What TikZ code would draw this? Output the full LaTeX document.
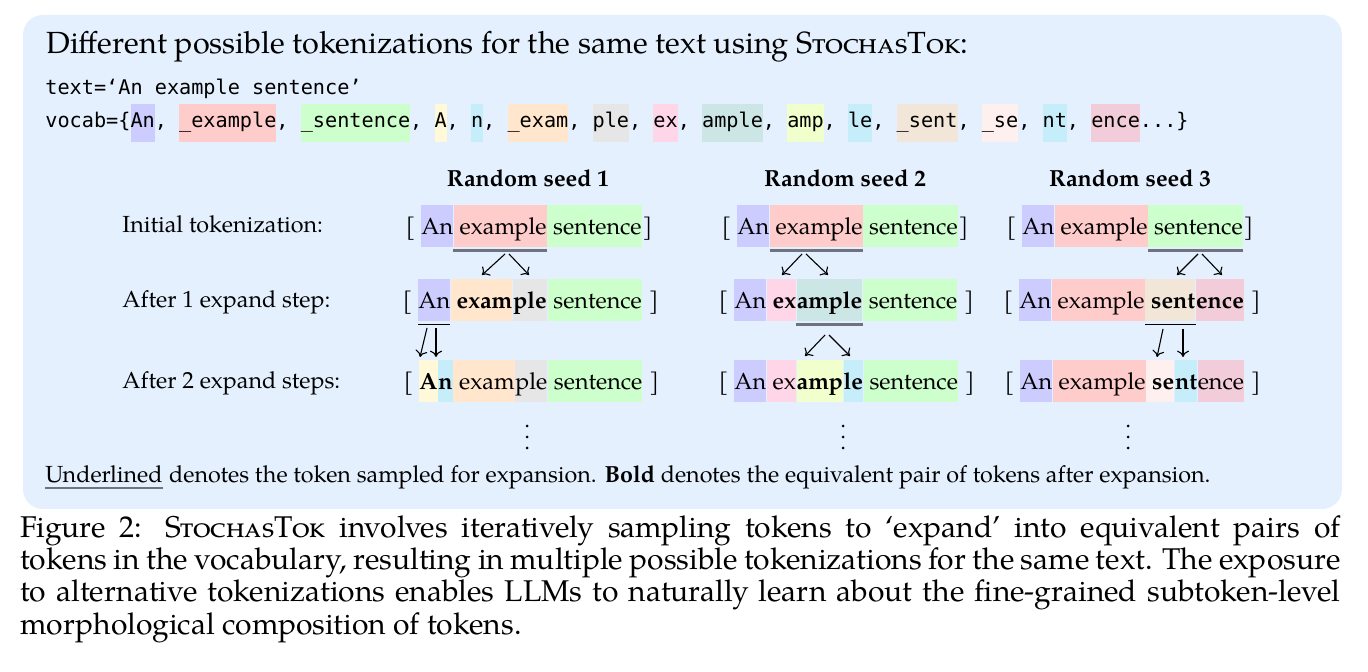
\documentclass[tikz,border=0pt]{standalone}
\usepackage{fontspec}
\setmainfont{texgyrepagella}[Extension=.otf, UprightFont=*-regular, BoldFont=*-bold, ItalicFont=*-italic, BoldItalicFont=*-bolditalic]
\setmonofont{DejaVu Sans Mono}
\usetikzlibrary{calc,arrows.meta}
\definecolor{bg}{RGB}{228,240,254}
\definecolor{cAn}{RGB}{204,204,255}
\definecolor{cExample}{RGB}{255,204,204}
\definecolor{cSentence}{RGB}{204,255,204}
\definecolor{cA}{RGB}{255,249,217}
\definecolor{cN}{RGB}{198,238,250}
\definecolor{cExam}{RGB}{255,230,204}
\definecolor{cPle}{RGB}{230,230,230}
\definecolor{cEx}{RGB}{255,214,232}
\definecolor{cAmple}{RGB}{204,230,230}
\definecolor{cAmp}{RGB}{240,255,204}
\definecolor{cLe}{RGB}{198,238,250}
\definecolor{cSent}{RGB}{242,230,217}
\definecolor{cSe}{RGB}{255,240,240}
\definecolor{cNt}{RGB}{198,238,250}
\definecolor{cEnce}{RGB}{242,204,217}
\definecolor{ulgray}{RGB}{110,115,125}
\newcommand{\vhl}[2]{{\setlength{\fboxsep}{0pt}\colorbox{#1}{\rule[-7pt]{0pt}{19pt}#2}}}
\tikzset{
  tok/.style={inner sep=0pt, text height=15pt, text depth=6pt, anchor=base west, font=\fontsize{11.65}{14}\selectfont},
  brk/.style={inner sep=0pt, font=\fontsize{11.65}{14}\selectfont},
  lbl/.style={inner sep=0pt, anchor=base west, font=\fontsize{11.65}{14}\selectfont},
  hdr/.style={inner sep=0pt, anchor=base, font=\fontsize{11.65}{14}\selectfont\bfseries},
  mono/.style={inner sep=0pt, anchor=base west, font=\fontsize{10.1}{12}\ttfamily},
  ulthick/.style={draw=ulgray, line width=1.3pt},
  ulthin/.style={draw=black, line width=0.5pt},
  arr/.style={-{To[length=3.2pt,width=6pt]}, line width=0.55pt}
}
\begin{document}
\begin{tikzpicture}[x=0.5pt,y=-0.5pt]
\useasboundingbox (0,0) rectangle (1368,672);
\fill[white] (0,0) rectangle (1368,672);
\fill[bg, rounded corners=10pt] (23,15) rectangle (1342,509);

\node[inner sep=0pt, anchor=base west, font=\fontsize{15.3}{18}\selectfont] (title) at (46,54)
  {Different possible tokenizations for the same text using \textsc{StochasTok}:};
\node[mono] (textline) at (45,95) {text=‘An example sentence’};
\node[mono] (vocab) at (45,128) {vocab=\{\vhl{cAn}{An}, \vhl{cExample}{\_example}, \vhl{cSentence}{\_sentence}, \vhl{cA}{A}, \vhl{cN}{n}, \vhl{cExam}{\_exam}, \vhl{cPle}{ple}, \vhl{cEx}{ex}, \vhl{cAmple}{ample}, \vhl{cAmp}{amp}, \vhl{cLe}{le}, \vhl{cSent}{\_sent}, \vhl{cSe}{\_se}, \vhl{cNt}{nt}, \vhl{cEnce}{ence}...\}};

% headers
\node[hdr] (h1) at (528,187) {Random seed 1};
\node[hdr] (h2) at (845,187) {Random seed 2};
\node[hdr] (h3) at (1130,187) {Random seed 3};

% row labels
\node[lbl] (l1) at (122,233) {Initial tokenization:};
\node[lbl] (l2) at (122,308) {After 1 expand step:};
\node[lbl] (l3) at (122,389) {After 2 expand steps:};

% ---------------- seed 1 ----------------
\node[tok, fill=cAn] (a11) at (421,235) {An};
\node[tok, fill=cExample] (a12) at (a11.base east) {\ example};
\node[tok, fill=cSentence] (a13) at (a12.base east) {\ sentence};
\node[brk, anchor=base east] (a1L) at (a11.base west) {[\kern2.5pt};
\node[brk, anchor=base west] (a1R) at (a13.base east) {]};

\node[tok, fill=cAn] (a21) at (418,309) {An};
\node[tok, fill=cExam] (a22) at (a21.base east) {\ \textbf{exam}};
\node[tok, fill=cPle] (a23) at (a22.base east) {\textbf{ple}};
\node[tok, fill=cSentence] (a24) at (a23.base east) {\ sentence};
\node[brk, anchor=base east] (a2L) at (a21.base west) {[\kern2.5pt};
\node[brk, anchor=base west] (a2R) at (a24.base east) {\ ]};

\node[tok, fill=cA] (a31) at (419,390) {\textbf{A}};
\node[tok, fill=cN] (a32) at (a31.base east) {\textbf{n}};
\node[tok, fill=cExam] (a33) at (a32.base east) {\ exam};
\node[tok, fill=cPle] (a34) at (a33.base east) {ple};
\node[tok, fill=cSentence] (a35) at (a34.base east) {\ sentence};
\node[brk, anchor=base east] (a3L) at (a31.base west) {[\kern2.5pt};
\node[brk, anchor=base west] (a3R) at (a35.base east) {\ ]};

\draw[ulthick] ($(a12.south west)+(0,3)$) -- ($(a12.south east)+(0,3)$);
\draw[ulthin] ($(a21.south west)+(0,3)$) -- ($(a21.south east)+(0,3)$);

\coordinate (p1a) at (505,254); \coordinate (q1a) at (482,275);
\coordinate (p1b) at (509,254); \coordinate (q1b) at (529,275);
\draw[arr] (p1a) -- (q1a);
\draw[arr] (p1b) -- (q1b);
\coordinate (p2a) at (427,328); \coordinate (q2a) at (420,357);
\coordinate (p2b) at (436,328); \coordinate (q2b) at (436,357);
\draw[arr] (p2a) -- (q2a);
\draw[arr] (p2b) -- (q2b);

% ---------------- seed 2 ----------------
\node[tok, fill=cAn] (b11) at (737,235) {An};
\node[tok, fill=cExample] (b12) at (b11.base east) {\ example};
\node[tok, fill=cSentence] (b13) at (b12.base east) {\ sentence};
\node[brk, anchor=base east] (b1L) at (b11.base west) {[\kern2.5pt};
\node[brk, anchor=base west] (b1R) at (b13.base east) {]};

\node[tok, fill=cAn] (b21) at (734,309) {An};
\node[tok, fill=cEx] (b22) at (b21.base east) {\ \textbf{ex}};
\node[tok, fill=cAmple] (b23) at (b22.base east) {\textbf{ample}};
\node[tok, fill=cSentence] (b24) at (b23.base east) {\ sentence};
\node[brk, anchor=base east] (b2L) at (b21.base west) {[\kern2.5pt};
\node[brk, anchor=base west] (b2R) at (b24.base east) {\ ]};

\node[tok, fill=cAn] (b31) at (734,390) {An};
\node[tok, fill=cEx] (b32) at (b31.base east) {\ ex};
\node[tok, fill=cAmp] (b33) at (b32.base east) {\textbf{amp}};
\node[tok, fill=cLe] (b34) at (b33.base east) {\textbf{le}};
\node[tok, fill=cSentence] (b35) at (b34.base east) {\ sentence};
\node[brk, anchor=base east] (b3L) at (b31.base west) {[\kern2.5pt};
\node[brk, anchor=base west] (b3R) at (b35.base east) {\ ]};

\draw[ulthick] ($(b12.south west)+(0,3)$) -- ($(b12.south east)+(0,3)$);
\draw[ulthick] ($(b23.south west)+(0,3)$) -- ($(b23.south east)+(0,3)$);

\coordinate (p3a) at (802,254); \coordinate (q3a) at (782,275);
\coordinate (p3b) at (806,254); \coordinate (q3b) at (828,275);
\draw[arr] (p3a) -- (q3a);
\draw[arr] (p3b) -- (q3b);
\coordinate (p4a) at (825,335); \coordinate (q4a) at (805,356);
\coordinate (p4b) at (829,335); \coordinate (q4b) at (850,356);
\draw[arr] (p4a) -- (q4a);
\draw[arr] (p4b) -- (q4b);

% ---------------- seed 3 ----------------
\node[tok, fill=cAn] (c11) at (1022,235) {An};
\node[tok, fill=cExample] (c12) at (c11.base east) {\ example};
\node[tok, fill=cSentence] (c13) at (c12.base east) {\ sentence};
\node[brk, anchor=base east] (c1L) at (c11.base west) {[\kern2.5pt};
\node[brk, anchor=base west] (c1R) at (c13.base east) {]};

\node[tok, fill=cAn] (c21) at (1019,309) {An};
\node[tok, fill=cExample] (c22) at (c21.base east) {\ example};
\node[tok, fill=cSent] (c23) at (c22.base east) {\ \textbf{sent}};
\node[tok, fill=cEnce] (c24) at (c23.base east) {\textbf{ence}};
\node[brk, anchor=base east] (c2L) at (c21.base west) {[\kern2.5pt};
\node[brk, anchor=base west] (c2R) at (c24.base east) {\ ]};

\node[tok, fill=cAn] (c31) at (1020,390) {An};
\node[tok, fill=cExample] (c32) at (c31.base east) {\ example};
\node[tok, fill=cSe] (c33) at (c32.base east) {\ \textbf{se}};
\node[tok, fill=cNt] (c34) at (c33.base east) {\textbf{nt}};
\node[tok, fill=cEnce] (c35) at (c34.base east) {ence};
\node[brk, anchor=base east] (c3L) at (c31.base west) {[\kern2.5pt};
\node[brk, anchor=base west] (c3R) at (c35.base east) {\ ]};

\draw[ulthick] ($(c13.south west)+(0,3)$) -- ($(c13.south east)+(0,3)$);
\draw[ulthin] ($(c23.south west)+(0,3)$) -- ($(c23.south east)+(0,3)$);

\coordinate (p5a) at (1198,254); \coordinate (q5a) at (1177,275);
\coordinate (p5b) at (1202,254); \coordinate (q5b) at (1222,275);
\draw[arr] (p5a) -- (q5a);
\draw[arr] (p5b) -- (q5b);
\coordinate (p6a) at (1163,329); \coordinate (q6a) at (1157,357);
\coordinate (p6b) at (1183,329); \coordinate (q6b) at (1183,357);
\draw[arr] (p6a) -- (q6a);
\draw[arr] (p6b) -- (q6b);

% vertical dots
\foreach \x in {527,843,1128}{
  \foreach \y in {426,437,448}{
    \fill (\x,\y) circle[radius=0.75pt];
  }
}

% footnote
\node[lbl] (ul) at (45,483) {Underlined};
\draw[ulthick] ($(ul.base west)+(0,5)$) -- ($(ul.base east)+(0,5)$);
\node[lbl] (note) at (ul.base east) {\ denotes the token sampled for expansion. \textbf{Bold} denotes the equivalent pair of tokens after expansion.};

% caption
\node[inner sep=0pt, anchor=north west, text width=660pt, align=justify, font=\fontsize{15}{13.5}\selectfont] (cap) at (20,515)
  {Figure 2: \textsc{StochasTok} involves iteratively sampling tokens to ‘expand’ into equivalent pairs of\linebreak
   tokens in the vocabulary, resulting in multiple possible tokenizations for the same text. The exposure\linebreak
   to alternative tokenizations enables LLMs to naturally learn about the fine-grained subtoken-level\linebreak
   morphological composition of tokens.};
\end{tikzpicture}
\end{document}
